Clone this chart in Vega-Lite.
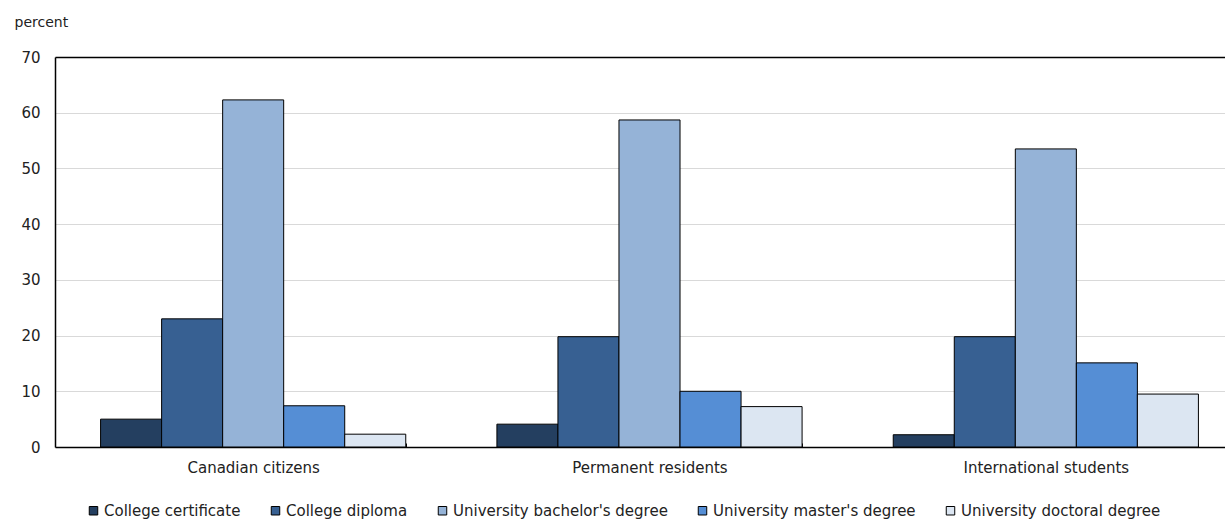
{
  "$schema": "https://vega.github.io/schema/vega-lite/v6.json",
  "autosize": {"type": "none"},
  "padding": {"left": 55, "top": 57, "right": 0, "bottom": 72},
  "width": 1170,
  "height": 390,
  "background": "#ffffff",
  "config": {
    "font": "DejaVu Sans",
    "view": {"stroke": null}
  },
  "data": {
    "values": [
      {"group": "Canadian citizens", "level": "College certificate", "percent": 5.0},
      {"group": "Canadian citizens", "level": "College diploma", "percent": 23.0},
      {"group": "Canadian citizens", "level": "University bachelor's degree", "percent": 62.3},
      {"group": "Canadian citizens", "level": "University master's degree", "percent": 7.4},
      {"group": "Canadian citizens", "level": "University doctoral degree", "percent": 2.3},
      {"group": "Permanent residents", "level": "College certificate", "percent": 4.1},
      {"group": "Permanent residents", "level": "College diploma", "percent": 19.8},
      {"group": "Permanent residents", "level": "University bachelor's degree", "percent": 58.7},
      {"group": "Permanent residents", "level": "University master's degree", "percent": 10.0},
      {"group": "Permanent residents", "level": "University doctoral degree", "percent": 7.25},
      {"group": "International students", "level": "College certificate", "percent": 2.2},
      {"group": "International students", "level": "College diploma", "percent": 19.8},
      {"group": "International students", "level": "University bachelor's degree", "percent": 53.5},
      {"group": "International students", "level": "University master's degree", "percent": 15.1},
      {"group": "International students", "level": "University doctoral degree", "percent": 9.5}
    ]
  },
  "mark": {"type": "bar", "stroke": "#000000", "strokeWidth": 1},
  "encoding": {
    "x": {
      "field": "group",
      "type": "nominal",
      "sort": ["Canadian citizens", "Permanent residents", "International students"],
      "scale": {"range": [0, 1189], "paddingInner": 0.23, "paddingOuter": 0.115},
      "axis": {
        "title": null,
        "labelAngle": 0,
        "labelFont": "DejaVu Sans",
        "labelFontSize": 15,
        "labelColor": "#222222",
        "domainColor": "#000000",
        "domainWidth": 1.5,
        "tickColor": "#000000",
        "tickBand": "extent",
        "tickSize": -4,
        "labelPadding": 17,
        "grid": false
      }
    },
    "xOffset": {
      "field": "level",
      "type": "nominal",
      "sort": ["College certificate", "College diploma", "University bachelor's degree", "University master's degree", "University doctoral degree"],
      "scale": {"paddingInner": 0, "paddingOuter": 0}
    },
    "y": {
      "field": "percent",
      "type": "quantitative",
      "scale": {"domain": [0, 70], "nice": false},
      "axis": {
        "values": [0, 10, 20, 30, 40, 50, 60, 70],
        "title": "percent",
        "titleAngle": 0,
        "titleAlign": "left",
        "titleBaseline": "middle",
        "titleX": -41,
        "titleY": -35,
        "titleFont": "DejaVu Sans",
        "titleFontSize": 14,
        "titleFontWeight": "normal",
        "titleColor": "#222222",
        "labelFont": "DejaVu Sans",
        "labelFontSize": 15,
        "labelColor": "#222222",
        "labelPadding": 15,
        "ticks": false,
        "domainColor": "#000000",
        "domainWidth": 1.5,
        "gridColor": {"condition": {"test": "datum.value === 70", "value": "#000000"}, "value": "#d9d9d9"},
        "gridWidth": {"condition": {"test": "datum.value === 70", "value": 1.5}, "value": 1}
      }
    },
    "color": {
      "field": "level",
      "type": "nominal",
      "sort": ["College certificate", "College diploma", "University bachelor's degree", "University master's degree", "University doctoral degree"],
      "scale": {
        "domain": ["College certificate", "College diploma", "University bachelor's degree", "University master's degree", "University doctoral degree"],
        "range": ["#243F60", "#376092", "#95B3D7", "#558ED5", "#DCE6F2"]
      },
      "legend": {
        "title": null,
        "orient": "none",
        "direction": "horizontal",
        "legendX": 31,
        "legendY": 446,
        "symbolType": "square",
        "symbolSize": 72,
        "symbolStrokeColor": "#000000",
        "symbolStrokeWidth": 1,
        "symbolOpacity": 1,
        "labelFont": "DejaVu Sans",
        "labelFontSize": 15,
        "labelColor": "#222222",
        "labelOffset": 3,
        "columnPadding": 27,
        "labelLimit": 400
      }
    }
  }
}
